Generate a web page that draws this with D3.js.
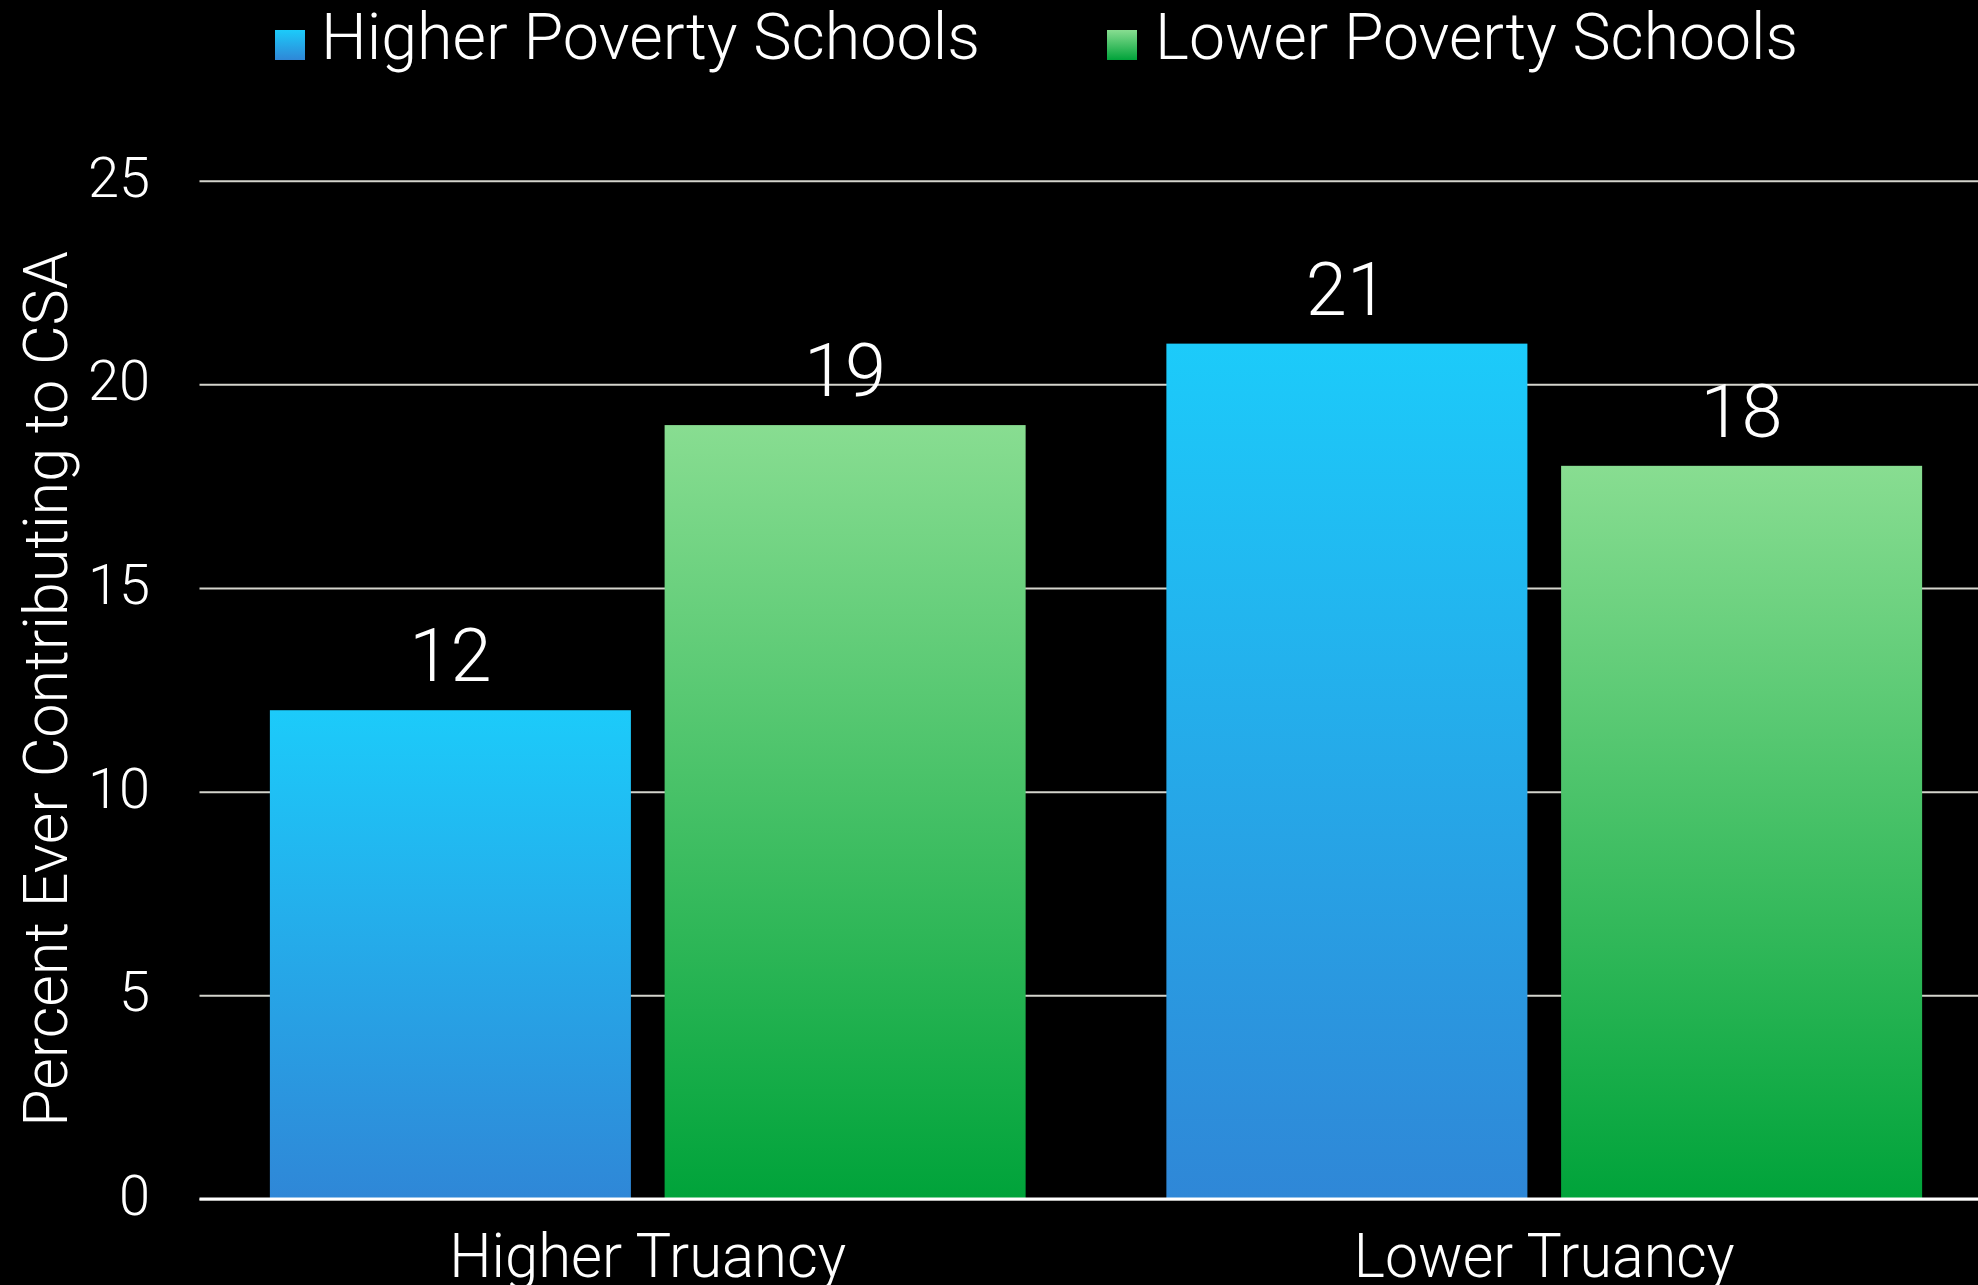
<!DOCTYPE html>
<html>
<head>
<meta charset="utf-8">
<script src="https://cdn.jsdelivr.net/npm/d3@7"></script>
<style>
  html, body { margin: 0; padding: 0; background: #000; }
  svg { display: block; }
  text { font-family: Roboto, "Open Sans", "DejaVu Sans", sans-serif; font-weight: 300; fill: #fff; }
</style>
</head>
<body>
<svg id="chart" width="1978" height="1285"></svg>
<script>
const categories = ["Higher Truancy", "Lower Truancy"];
const seriesNames = ["Higher Poverty Schools", "Lower Poverty Schools"];
const higherPoverty = [12, 21];
const lowerPoverty = [19, 18];
const yTicks = [0, 5, 10, 15, 20, 25];
const yTitle = "Percent Ever Contributing to CSA";

const W = 1978, H = 1285;
const svg = d3.select("#chart");
const defs = svg.append("defs");

const grads = [
  {id: "gBlue", top: "#1ccbfa", bottom: "#2f87d7"},
  {id: "gGreen", top: "#88dd91", bottom: "#00a33a"}
];
grads.forEach(g => {
  const lg = defs.append("linearGradient").attr("id", g.id)
    .attr("x1", 0).attr("y1", 0).attr("x2", 0).attr("y2", 1);
  lg.append("stop").attr("offset", "0%").attr("stop-color", g.top);
  lg.append("stop").attr("offset", "100%").attr("stop-color", g.bottom);
});

const y = d3.scaleLinear().domain([0, 25]).range([1199, 180.7]);
const x0 = d3.scaleBand().domain(categories).range([199.5, 1992.5])
  .paddingInner(0.157).paddingOuter(0.0785);
const x1 = d3.scaleBand().domain(seriesNames).range([0, x0.bandwidth()])
  .paddingInner(0.0854).paddingOuter(0);

const data = categories.map((c, i) => ({
  cat: c,
  vals: [
    {s: seriesNames[0], v: higherPoverty[i], fill: "url(#gBlue)"},
    {s: seriesNames[1], v: lowerPoverty[i], fill: "url(#gGreen)"}
  ]
}));

// gridlines
const yAxis = d3.axisLeft(y).tickValues(yTicks).tickSize(-(W - 199.5)).tickFormat("");
const gGrid = svg.append("g").attr("transform", "translate(199.5,0)").call(yAxis);
gGrid.select(".domain").remove();
gGrid.selectAll(".tick line").attr("stroke", "#d4d4cc").attr("stroke-width", 2);

// tick labels
svg.append("g").selectAll("text").data(yTicks).join("text")
  .attr("x", 150).attr("y", d => y(d) + 16)
  .attr("text-anchor", "end").attr("font-size", 56)
  .text(d => d);

// bars
const groups = svg.append("g").selectAll("g").data(data).join("g")
  .attr("transform", d => `translate(${x0(d.cat)},0)`);
groups.selectAll("rect").data(d => d.vals).join("rect")
  .attr("x", d => x1(d.s)).attr("width", x1.bandwidth())
  .attr("y", d => y(d.v)).attr("height", d => y(0) - y(d.v))
  .attr("fill", d => d.fill);
groups.selectAll("text").data(d => d.vals).join("text")
  .attr("x", d => x1(d.s) + x1.bandwidth() / 2)
  .attr("y", d => y(d.v) - 29)
  .attr("text-anchor", "middle").attr("font-size", 74)
  .text(d => d.v);

// baseline
svg.append("line").attr("x1", 199.5).attr("x2", W)
  .attr("y1", y(0)).attr("y2", y(0))
  .attr("stroke", "#ffffff").attr("stroke-width", 3);

// x labels
const xLabelWidths = [397, 381];
const xAxis = d3.axisBottom(x0).tickSize(0);
const gx = svg.append("g").attr("transform", `translate(0,${y(0)})`).call(xAxis);
gx.select(".domain").remove();
gx.selectAll(".tick text").attr("font-size", 62).attr("fill", "#fff")
  .attr("font-family", null).attr("y", 78).attr("dy", 0)
  .attr("textLength", (d, i) => xLabelWidths[i]).attr("lengthAdjust", "spacingAndGlyphs");

// y title
svg.append("text").attr("transform", "translate(67,689) rotate(-90)")
  .attr("text-anchor", "middle").attr("font-size", 61).text(yTitle);

// legend
const legend = [
  {name: seriesNames[0], fill: "url(#gBlue)", sx: 275, tx: 321, tw: 659},
  {name: seriesNames[1], fill: "url(#gGreen)", sx: 1107, tx: 1155, tw: 643}
];
const lg = svg.append("g").selectAll("g").data(legend).join("g");
lg.append("rect").attr("x", d => d.sx).attr("y", 30).attr("width", 30).attr("height", 30)
  .attr("fill", d => d.fill);
lg.append("text").attr("x", d => d.tx).attr("y", 59).attr("font-size", 64)
  .attr("textLength", d => d.tw).attr("lengthAdjust", "spacingAndGlyphs")
  .text(d => d.name);
</script>
</body>
</html>
